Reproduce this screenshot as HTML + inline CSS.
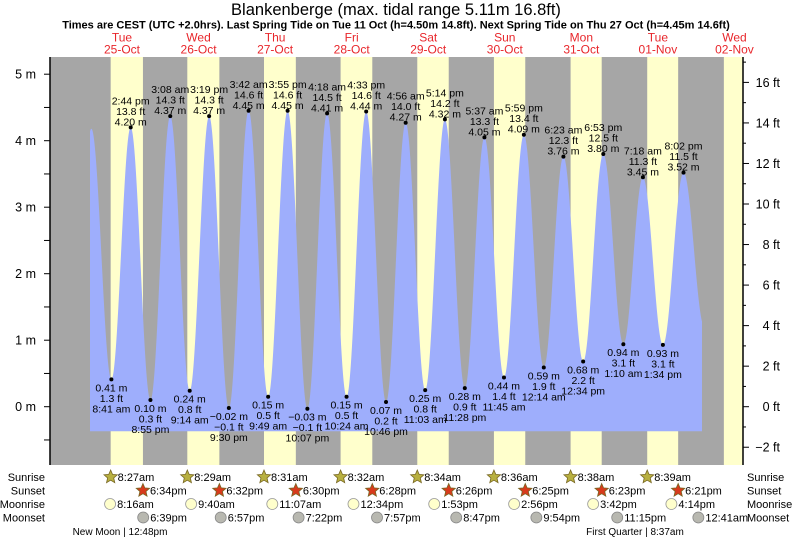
<!DOCTYPE html>
<html><head><meta charset="utf-8">
<style>
body{margin:0;background:#fff;}
svg text{font-family:"Liberation Sans",sans-serif;}
</style></head>
<body>
<svg id="c" width="793" height="539" viewBox="0 0 793 539" xmlns="http://www.w3.org/2000/svg">
<text x="396" y="15" font-size="16.5" text-anchor="middle" fill="#000">Blankenberge (max. tidal range 5.11m 16.8ft)</text>
<text x="396" y="28.5" font-size="11" font-weight="bold" text-anchor="middle" fill="#000">Times are CEST (UTC +2.0hrs). Last Spring Tide on Tue 11 Oct (h=4.50m 14.8ft). Next Spring Tide on Thu 27 Oct (h=4.45m 14.6ft)</text>
<g id="bg"></g><g id="tide"></g><g id="axes"></g><g id="labels"></g><g id="astro"></g>
</svg>
<script>
// ---- data ----
const dayNames=["Tue","Wed","Thu","Fri","Sat","Sun","Mon","Tue","Wed"];
const dayDates=["25-Oct","26-Oct","27-Oct","28-Oct","29-Oct","30-Oct","31-Oct","01-Nov","02-Nov"];
// tide extremes: hours since Oct25 00:00, height m
const tideHours=[2.4,8.68,14.73,20.92,27.13,33.23,39.32,45.5,51.7,57.82,63.92,70.12,76.3,82.4,88.55,94.77,100.93,107.05,113.23,119.47,125.62,131.75,137.98,144.23,150.38,156.57,162.88,169.17,175.3,181.57,188.03,194.6];
const tideHeights=[4.18,0.41,4.20,0.10,4.37,0.24,4.37,-0.02,4.45,0.15,4.45,-0.03,4.41,0.15,4.44,0.07,4.27,0.25,4.32,0.28,4.05,0.44,4.09,0.59,3.76,0.68,3.80,0.94,3.45,0.93,3.52,1.20];
const tideTimes=["","8:41 am","2:44 pm","8:55 pm","3:08 am","9:14 am","3:19 pm","9:30 pm","3:42 am","9:49 am","3:55 pm","10:07 pm","4:18 am","10:24 am","4:33 pm","10:46 pm","4:56 am","11:03 am","5:14 pm","11:28 pm","5:37 am","11:45 am","5:59 pm","12:14 am","6:23 am","12:34 pm","6:53 pm","1:10 am","7:18 am","1:34 pm","8:02 pm",""];
const tideFt=["","1.3","13.8","0.3","14.3","0.8","14.3","-0.1","14.6","0.5","14.6","-0.1","14.5","0.5","14.6","0.2","14.0","0.8","14.2","0.9","13.3","1.4","13.4","1.9","12.3","2.2","12.5","3.1","11.3","3.1","11.5",""];
const sunrise=[8.45,8.48,8.52,8.53,8.57,8.6,8.63,8.65,8.68];
const sunriseLbl=["8:27am","8:29am","8:31am","8:32am","8:34am","8:36am","8:38am","8:39am",""];
const sunset=[18.57,18.53,18.5,18.47,18.43,18.42,18.38,18.35,18.33];
const sunsetLbl=["6:34pm","6:32pm","6:30pm","6:28pm","6:26pm","6:25pm","6:23pm","6:21pm"];
const moonrise=[8.27,33.67,59.12,84.57,109.88,134.93,159.7,184.23];
const moonriseLbl=["8:16am","9:40am","11:07am","12:34pm","1:53pm","2:56pm","3:42pm","4:14pm"];
const moonset=[18.65,42.95,67.37,91.95,116.78,141.9,167.25,192.68];
const moonsetLbl=["6:39pm","6:57pm","7:22pm","7:57pm","8:47pm","9:54pm","11:15pm","12:41am"];
const mTicks=[-0.5,0,0.5,1,1.5,2,2.5,3,3.5,4,4.5,5];
const ftTicks=[-2,0,2,4,6,8,10,12,14,16];

// ---- scales ----
const X0=50,X1=743,Y0=57,Y1=465;
const x=h=>83.7+h*3.19;
const y=m=>406.7-m*66.5;
const NS="http://www.w3.org/2000/svg";
function mk(tag,attrs,parent,txt){const e=document.createElementNS(NS,tag);for(const k in attrs)e.setAttribute(k,attrs[k]);if(txt!==undefined)e.textContent=txt;document.getElementById(parent).appendChild(e);return e;}

// background
let r=mk('rect',{x:X0,y:Y0,width:X1-X0,height:Y1-Y0,fill:'#a6a6a6'},'bg');


for(let d=0;d<9;d++){
  const a=x(d*24+sunrise[d]);const b=Math.min(X1,x(d*24+sunset[d]));
  if(a>=X1)continue;
  const band=mk('rect',{x:a,y:Y0,width:b-a,height:Y1-Y0,fill:'#ffffcc'},'bg');
  
  
  const cx=x(d*24+12);
  const t1=mk('text',{x:cx,y:41.5,'font-size':12,'text-anchor':'middle',fill:'#e8262b'},'axes',dayNames[d]);
  
  
  const t2=mk('text',{x:cx,y:53.5,'font-size':12,'text-anchor':'middle',fill:'#e8262b'},'axes',dayDates[d]);
  
  
}
// tide curve
const hStart=(90-83.7)/3.19, hEnd=(702-83.7)/3.19;
function tideAt(h){
  for(let i=0;i<tideHours.length-1;i++){
    if(h>=tideHours[i]&&h<=tideHours[i+1]){
      const f=(h-tideHours[i])/(tideHours[i+1]-tideHours[i]);
      const a=tideHeights[i],b=tideHeights[i+1];
      return a+(b-a)*(1-Math.cos(Math.PI*f))/2;
    }
  }
  if(h<tideHours[0]){const f=(tideHours[0]-h)/6.2;return tideHeights[0]-(tideHeights[0]-0.4)*(1-Math.cos(Math.PI*f))/2;}
  return tideHeights[tideHeights.length-1];
}
const base=-0.37;
let d='M'+x(hStart)+','+y(base);
for(let h=hStart;h<=hEnd;h+=0.1)d+=' L'+x(h).toFixed(2)+','+y(tideAt(h)).toFixed(2);
d+=' L'+x(hEnd)+','+y(tideAt(hEnd))+' L'+x(hEnd)+','+y(base)+'Z';
const area=mk('path',{d:d,fill:'#9eaefc'},'tide');


// labels
for(let i=0;i<tideHours.length;i++){
  if(!tideTimes[i])continue;
  const px=x(tideHours[i]),py=y(tideHeights[i]);
  const dot=mk('circle',{cx:px,cy:py,r:2,fill:'#000'},'labels');
  
  
  const high=tideHeights[i]>2;
  const mTxt=tideHeights[i].toFixed(2).replace('-','\u2212')+' m';
  const fTxt=tideFt[i].replace('-','\u2212')+' ft';
  const lines=high?[tideTimes[i],fTxt,mTxt]:[mTxt,fTxt,tideTimes[i]];
  const y0=high?py-23:py+12;
  lines.forEach((s,k)=>{
    const t=mk('text',{x:px,y:y0+k*10.5,'font-size':10.5,'text-anchor':'middle',fill:'#000'},'labels',s);
    
    
  });
}
// axes
let ax=mk('line',{x1:X0,y1:Y0,x2:X0,y2:Y1,stroke:'#000','stroke-width':1.5},'axes');


ax=mk('line',{x1:X1,y1:Y0,x2:X1,y2:Y1,stroke:'#000','stroke-width':1.5},'axes');


mTicks.forEach(m=>{
  const tk=mk('line',{x1:X0-6,y1:y(m),x2:X0,y2:y(m),stroke:'#000'},'axes');
  
  
  if(Number.isInteger(m)){
    const t=mk('text',{x:36,y:y(m)+4.5,'font-size':12.5,'text-anchor':'end',fill:'#000'},'axes',m+' m');
    
    
  }
});
ftTicks.forEach(f=>{
  const yy=y(f*0.3048);
  const tk=mk('line',{x1:X1,y1:yy,x2:X1+6,y2:yy,stroke:'#000'},'axes');
  
  
  const mt=mk('line',{x1:X1,y1:y((f+1)*0.3048),x2:X1+3,y2:y((f+1)*0.3048),stroke:'#000'},'axes');
  
  
  const t=mk('text',{x:780,y:yy+4.5,'font-size':12.5,'text-anchor':'end',fill:'#000'},'axes',String(f).replace('-','\u2212')+' ft');
  
  
});
// astro rows
const rows=[["Sunrise",481],["Sunset",494.5],["Moonrise",508],["Moonset",521.5]];
rows.forEach(([n,yy])=>{
  let t=mk('text',{x:45,y:yy,'font-size':11,'text-anchor':'end',fill:'#000'},'astro',n);
  
  
  t=mk('text',{x:747,y:yy,'font-size':11,fill:'#000'},'astro',n);
  
  
});
function star(cx,cy,fill){
  let p='';for(let k=0;k<10;k++){const a=-Math.PI/2+k*Math.PI/5;const rr=k%2?3.2:7;p+=(cx+rr*Math.cos(a)).toFixed(2)+','+(cy+rr*Math.sin(a)).toFixed(2)+' ';}
  return mk('polygon',{points:p,fill:fill,stroke:'#776622','stroke-width':0.8},'astro');
}
function lbl(px,py,s,nm){const t=mk('text',{x:px+7,y:py+4,'font-size':11,fill:'#000'},'astro',s);}
for(let i=0;i<8;i++){
  let px=x(i*24+sunrise[i]);let s=star(px,477,'#b8b040');
  
  
  lbl(px,477,sunriseLbl[i],'sunrise-time');
  px=x(i*24+sunset[i]);s=star(px,490.5,'#d83a1c');
  
  
  lbl(px,490.5,sunsetLbl[i],'sunset-time');
  px=x(moonrise[i]);let c=mk('circle',{cx:px,cy:504,r:5.5,fill:'#ffffcc',stroke:'#999','stroke-width':0.8},'astro');
  
  
  lbl(px,504,moonriseLbl[i],'moonrise-time');
  px=x(moonset[i]);c=mk('circle',{cx:px,cy:517.5,r:5.5,fill:'#b8b8b0',stroke:'#888','stroke-width':0.8},'astro');
  
  
  lbl(px,517.5,moonsetLbl[i],'moonset-time');
}
let ph=mk('text',{x:120,y:535,'font-size':10,'text-anchor':'middle',fill:'#000'},'astro','New Moon | 12:48pm');


ph=mk('text',{x:635,y:535,'font-size':10,'text-anchor':'middle',fill:'#000'},'astro','First Quarter | 8:37am');


</script>
</body></html>
